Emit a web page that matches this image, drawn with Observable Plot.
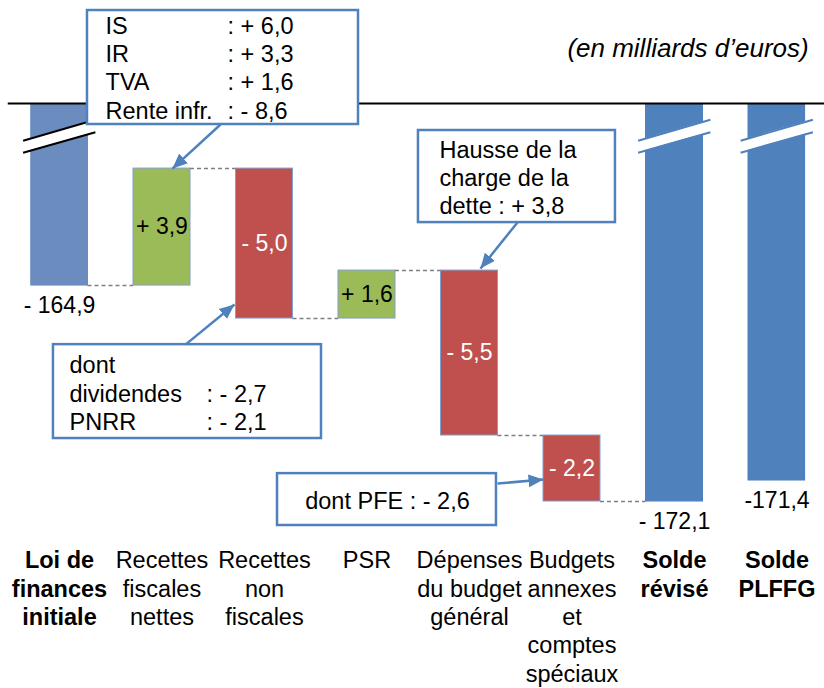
<!DOCTYPE html>
<html><head><meta charset="utf-8">
<script src="https://cdn.jsdelivr.net/npm/d3@7"></script>
<script src="https://cdn.jsdelivr.net/npm/@observablehq/plot@0.6"></script>
<style>body{margin:0;background:#fff}</style>
</head><body><div id="chart"></div>
<script>
// ---- data ----
const categories = [
  "Loi de\nfinances\ninitiale",
  "Recettes\nfiscales\nnettes",
  "Recettes\nnon\nfiscales",
  "PSR",
  "Dépenses\ndu budget\ngénéral",
  "Budgets\nannexes\net\ncomptes\nspéciaux",
  "Solde\nrévisé",
  "Solde\nPLFFG"
];
const values = [-164.9, 3.9, -5.0, 1.6, -5.5, -2.2, -172.1, -171.4];
const kinds = ["total", "delta", "delta", "delta", "delta", "delta", "total", "total"];
const valueLabels = ["- 164,9", "+ 3,9", "- 5,0", "+ 1,6", "- 5,5", "- 2,2", "- 172,1", "-171,4"];
const boldTicks = [0, 6, 7];
const normalTicks = [1, 2, 3, 4, 5];
const caption = "(en milliards d’euros)";
const axisTop = -158.83;      // value where the broken axis is cut
const breakLo = [-160.47, -159.79]; // lower edge of break band (left, right)
const breakHi = [-160.07, -159.37]; // upper edge of break band (left, right)

// annotation boxes (data units)
const noteBoxes = [
  {x1: 0.273, x2: 2.917, y1: -159.53, y2: -155.73},
  {x1: -0.059, x2: 2.556, y1: -170.00, y2: -166.87},
  {x1: 3.502, x2: 5.424, y1: -162.80, y2: -159.73},
  {x1: 2.127, x2: 4.263, y1: -172.90, y2: -171.17}
];
const noteTexts = [
  {x: 0.449, y: -157.62, text: "IS\nIR\nTVA\nRente infr.", anchor: "start"},
  {x: 1.639, y: -157.62, text: ": + 6,0\n: + 3,3\n: + 1,6\n: - 8,6", anchor: "start"},
  {x: 0.098, y: -168.47, text: "dont\ndividendes\nPNRR", anchor: "start"},
  {x: 1.434, y: -168.47, text: "\n: - 2,7\n: - 2,1", anchor: "start"},
  {x: 3.707, y: -161.27, text: "Hausse de la\ncharge de la\ndette : + 3,8", anchor: "start"},
  {x: 3.2, y: -172.05, text: "dont PFE : - 2,6", anchor: "middle"}
];
const noteArrows = [
  {x1: 1.571, y1: -159.53, x2: 1.102, y2: -161.0},
  {x1: 1.229, y1: -166.87, x2: 1.707, y2: -165.53},
  {x1: 4.468, y1: -162.80, x2: 4.107, y2: -164.33},
  {x1: 4.273, y1: -171.50, x2: 4.722, y2: -171.37}
];

// ---- styles ----
const hw = 0.278;
const FONT = "'Liberation Sans', Arial, sans-serif";
const BLUE = "#4f81bd", BLUE0 = "#6a8cbf", GREEN = "#9bbb59", RED = "#c0504d";

// ---- waterfall ----
let run = 0;
const bars = values.map((v, i) => {
  if (kinds[i] === "total") { run = v; return {i, y1: 0, y2: v, end: v, v, kind: "total", label: valueLabels[i]}; }
  const start = run; run = +(run + v).toFixed(1);
  return {i, y1: start, y2: run, end: run, v, kind: "delta", label: valueLabels[i]};
});
const fillOf = d => d.kind === "total" ? (d.i === 0 ? BLUE0 : BLUE) : (d.v > 0 ? GREEN : RED);
const connectors = bars.slice(0, 6).map(d => ({x1: d.i + hw, x2: d.i + 1 - hw, y: d.end}));
const totals = bars.filter(d => d.kind === "total");
const deltas = bars.filter(d => d.kind === "delta");
const breakPts = [0, 6, 7].flatMap(i => [
  {i, x: i - 0.355, lo: breakLo[0], hi: breakHi[0]},
  {i, x: i + 0.35, lo: breakLo[1], hi: breakHi[1]}
]);
const breakLines = [0, 6, 7].flatMap(i => [
  {i, x1: i - 0.355, x2: i + 0.35, y1: breakLo[0], y2: breakLo[1], c: i === 0 ? "black" : BLUE},
  {i, x1: i - 0.355, x2: i + 0.35, y1: breakHi[0], y2: breakHi[1], c: i === 0 ? "black" : BLUE}
]);

function arrowHead(color) {
  const ns = "http://www.w3.org/2000/svg";
  const m = document.createElementNS(ns, "marker");
  m.setAttribute("viewBox", "-15 -7 16 14");
  m.setAttribute("markerWidth", 16);
  m.setAttribute("markerHeight", 14);
  m.setAttribute("markerUnits", "userSpaceOnUse");
  m.setAttribute("orient", "auto");
  const p = document.createElementNS(ns, "path");
  p.setAttribute("d", "M-15,-6.5L0,0L-15,6.5Z");
  p.setAttribute("fill", color);
  p.setAttribute("stroke", "none");
  m.appendChild(p);
  return m;
}

const chart = Plot.plot({
  width: 824, height: 688,
  marginTop: 103, marginBottom: 148, marginLeft: 30.3, marginRight: 18.8,
  x: {type: "linear", domain: [-0.28, 7.28]},
  y: {domain: [-173.4, axisTop], axis: null},
  color: {type: "identity"},
  style: {fontFamily: FONT, fontSize: "23px", background: "white", color: "black", overflow: "visible"},
  marks: [
    Plot.rect(bars, {x1: d => d.i - hw, x2: d => d.i + hw, y1: "y1", y2: "y2", fill: fillOf,
      stroke: d => d.kind === "total" ? fillOf(d) : "#7f9fd0", strokeWidth: 1, clip: true}),
    Plot.areaY(breakPts, {x: "x", y1: "lo", y2: "hi", z: "i", fill: "white", curve: "linear"}),
    Plot.link(breakLines, {x1: "x1", x2: "x2", y1: "y1", y2: "y2", stroke: "c", strokeWidth: 2}),
    Plot.ruleY([axisTop], {x1: -0.5, x2: 7.8, stroke: "black", strokeWidth: 2}),
    Plot.ruleY(connectors, {x1: "x1", x2: "x2", y: "y", stroke: "#7f7f7f", strokeWidth: 1.5, strokeDasharray: "4,3"}),
    Plot.text(totals, {x: "i", y: "end", text: "label", dy: 20, fontSize: 23, fill: "black"}),
    Plot.text(deltas, {x: "i", y: d => (d.y1 + d.y2) / 2, text: "label", fontSize: 23,
      fill: d => d.v > 0 ? "black" : "white"}),
    Plot.axisX(boldTicks, {tickSize: 0, tickPadding: 7.5, fontSize: 23.5, fontWeight: "bold",
      lineHeight: 1.21, tickFormat: i => categories[i], label: null}),
    Plot.axisX(normalTicks, {tickSize: 0, tickPadding: 7.5, fontSize: 23.5,
      lineHeight: 1.21, tickFormat: i => categories[i], label: null}),
    Plot.text([caption], {frameAnchor: "top-right", text: d => d, textAnchor: "end", dx: 3, dy: -65,
      fontSize: 26, fontStyle: "italic", fill: "black"}),
    Plot.rect(noteBoxes, {x1: "x1", x2: "x2", y1: "y1", y2: "y2", fill: "white", stroke: BLUE, strokeWidth: 2.5}),
    Plot.text(noteTexts.filter(d => d.anchor === "start"), {x: "x", y: "y", text: "text", textAnchor: "start",
      fontSize: 23.5, lineHeight: 1.2, fill: "black"}),
    Plot.text(noteTexts.filter(d => d.anchor === "middle"), {x: "x", y: "y", text: "text", textAnchor: "middle",
      fontSize: 23.5, lineHeight: 1.2, fill: "black"}),
    Plot.link(noteArrows, {x1: "x1", y1: "y1", x2: "x2", y2: "y2", stroke: BLUE, strokeWidth: 2.5, markerEnd: arrowHead})
  ]
});
document.getElementById("chart").appendChild(chart);
</script>
</body></html>
